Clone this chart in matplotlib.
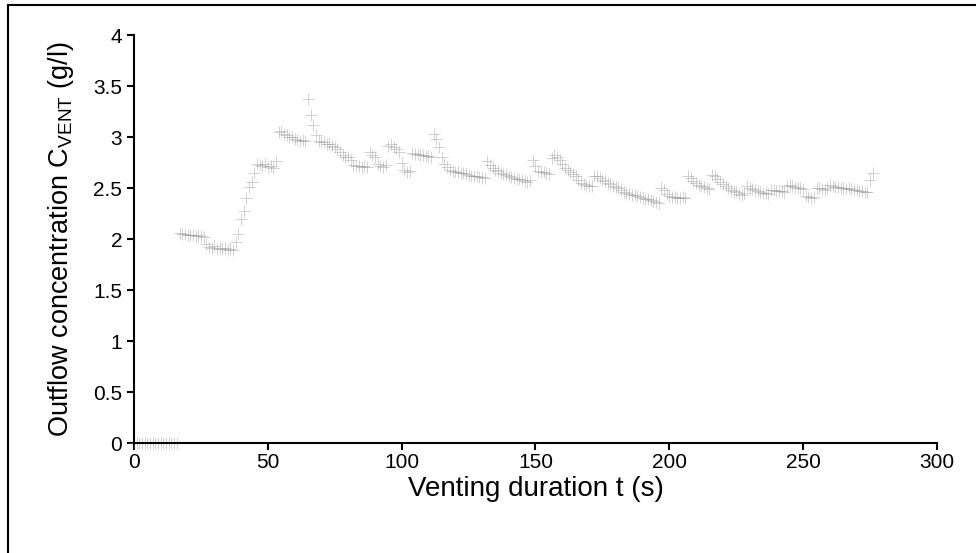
import numpy as np
import matplotlib
matplotlib.use('Agg')
import matplotlib.pyplot as plt
from matplotlib.patches import Rectangle

plt.rcParams['font.family'] = ['Liberation Sans', 'DejaVu Sans']

# concentracion de salida, una muestra por segundo (t = 0 ... 276 s)
conc = [
    0, 0, 0, 0, 0, 0, 0, 0, 0, 0, 0, 0, 0, 0, 0, 0, 0,
    2.06, 2.05, 2.05, 2.04, 2.04, 2.04, 2.03, 2.04, 2.03, 2.02,
    1.95, 1.92, 1.91, 1.93, 1.90, 1.91, 1.90, 1.91, 1.89, 1.90, 1.89,
    1.97, 2.05, 2.20, 2.27, 2.40, 2.51, 2.56, 2.65, 2.74, 2.73,
    2.72, 2.74, 2.71, 2.72, 2.70, 2.76, 3.05, 3.06, 3.03, 3.02,
    3.00, 3.00, 2.98, 2.97, 2.96, 2.97, 2.96, 3.37, 3.22, 3.12,
    3.02, 2.96, 2.95, 2.95, 2.93, 2.93, 2.91, 2.90, 2.88, 2.85,
    2.82, 2.80, 2.80, 2.77, 2.73, 2.72, 2.72, 2.71, 2.72, 2.71,
    2.85, 2.82, 2.80, 2.74, 2.72, 2.71, 2.73, 2.91, 2.93, 2.90,
    2.88, 2.85, 2.75, 2.68, 2.66, 2.67, 2.84, 2.83, 2.83, 2.82,
    2.82, 2.81, 2.81, 2.80, 3.03, 2.98, 2.90, 2.80, 2.74, 2.71,
    2.68, 2.67, 2.66, 2.66, 2.65, 2.65, 2.64, 2.63, 2.62, 2.62,
    2.62, 2.61, 2.61, 2.60, 2.76, 2.73, 2.70, 2.68, 2.67, 2.65,
    2.64, 2.63, 2.62, 2.61, 2.60, 2.59, 2.59, 2.58, 2.57, 2.56,
    2.58, 2.77, 2.72, 2.67, 2.66, 2.66, 2.65, 2.64, 2.79, 2.82,
    2.80, 2.77, 2.74, 2.70, 2.68, 2.66, 2.64, 2.62, 2.58, 2.55,
    2.54, 2.53, 2.52, 2.52, 2.62, 2.62, 2.60, 2.58, 2.57, 2.55,
    2.54, 2.52, 2.51, 2.50, 2.48, 2.46, 2.45, 2.44, 2.43, 2.43,
    2.42, 2.41, 2.40, 2.39, 2.39, 2.38, 2.37, 2.36, 2.35, 2.50,
    2.48, 2.44, 2.42, 2.41, 2.41, 2.40, 2.40, 2.41, 2.40, 2.62,
    2.60, 2.57, 2.55, 2.53, 2.52, 2.51, 2.50, 2.49, 2.63, 2.62,
    2.59, 2.56, 2.54, 2.52, 2.50, 2.48, 2.47, 2.46, 2.44, 2.43,
    2.45, 2.52, 2.50, 2.49, 2.48, 2.47, 2.46, 2.45, 2.45, 2.44,
    2.48, 2.48, 2.47, 2.47, 2.47, 2.46, 2.52, 2.53, 2.52, 2.51,
    2.50, 2.50, 2.49, 2.42, 2.41, 2.40, 2.41, 2.50, 2.50, 2.49,
    2.48, 2.50, 2.53, 2.52, 2.51, 2.51, 2.50, 2.50, 2.49, 2.50,
    2.49, 2.48, 2.48, 2.47, 2.47, 2.46, 2.46, 2.58, 2.65,
]
t = np.arange(len(conc))  # paso de 1 s

fig = plt.figure(figsize=(9.76, 5.53), dpi=100)
ax = fig.add_axes([0.1373, 0.1989, 0.8227, 0.7378])

ax.plot(t, conc, linestyle='none', marker='+', markersize=8.5,
        markeredgewidth=0.6, color='#8a8a8a', alpha=0.45, clip_on=False)

ax.set_xlim(0, 300)
ax.set_ylim(0, 4)
ax.set_xticks(np.arange(0, 301, 50))
ax.set_yticks(np.arange(0, 4.01, 0.5))
ax.set_yticklabels(['0', '0.5', '1', '1.5', '2', '2.5', '3', '3.5', '4'])

for s in ['top', 'right']:
    ax.spines[s].set_visible(False)
for s in ['left', 'bottom']:
    ax.spines[s].set_linewidth(1.5)
    ax.spines[s].set_color('black')

ax.tick_params(direction='out', length=5, width=1.5, labelsize=15, colors='black')
ax.tick_params(axis='x', pad=2)
ax.set_xlabel('Venting duration t (s)', fontsize=20, labelpad=3)
ax.set_ylabel('Outflow concentration C$_{\\mathregular{VENT}}$ (g/l)', fontsize=19.5, labelpad=12)

# marco exterior del grafico (recortado a la derecha y abajo)
fig.patches.append(Rectangle((8 / 976, -0.1), 1.2, 1.1 - 5 / 553,
                             transform=fig.transFigure, fill=False,
                             edgecolor='black', linewidth=1.5))

fig.savefig('out.png', dpi=100)
